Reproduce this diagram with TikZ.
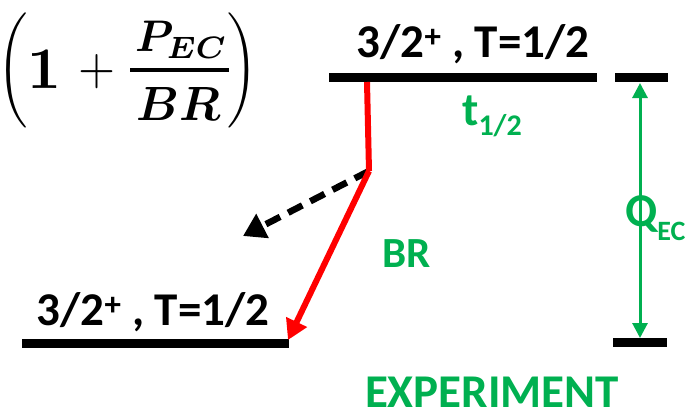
\documentclass[tikz,border=0pt]{standalone}
\usepackage{amsmath,bm}
\usepackage[no-math]{fontspec}
\setmainfont{Carlito}
\usetikzlibrary{arrows.meta}
\definecolor{offgreen}{RGB}{0,176,80}
\tikzset{
  level/.style={line width=9pt},
  lbl/.style={font=\bfseries\fontsize{47}{50}\selectfont, inner sep=0pt, anchor=base},
  glbl/.style={lbl, text=offgreen},
  mpart/.style={inner sep=0pt, anchor=center},
  redarrow/.style={red, line width=6pt, -{Triangle[length=20pt,width=22pt]}},
  dasharrow/.style={black, line width=6.5pt, dash pattern=on 16pt off 9pt, -{Triangle[length=22pt,width=26pt]}},
  qarrow/.style={offgreen, line width=3pt, {Triangle[length=15pt,width=15pt]}-{Triangle[length=15pt,width=15pt]}}
}
\begin{document}
\begin{tikzpicture}[x=1pt,y=-1pt]
\useasboundingbox (0,0) rectangle (700,413);
% levels
\coordinate (t1) at (329,77.5);
\coordinate (t2) at (597,77.5);
\coordinate (q1) at (615,77.5);
\coordinate (q2) at (668,77.5);
\coordinate (b1) at (22,343);
\coordinate (b2) at (289,343);
\coordinate (r1) at (613,342);
\coordinate (r2) at (667,342);
\draw[level] (t1) -- (t2);
\draw[level] (q1) -- (q2);
\draw[level] (b1) -- (b2);
\draw[level] (r1) -- (r2);
% formula (1 + P_EC / BR)
\node[mpart] (lpar) at (12.5,70.5) {\resizebox*{!}{115pt}{$\Bigg($}};
\node[mpart] (rpar) at (242.5,70.5) {\resizebox*{!}{115pt}{$\Bigg)$}};
\node[mpart] (one) at (44.5,69) {\resizebox*{!}{38pt}{$\mathbf{1}$}};
\node[mpart] (plus) at (96.5,72) {\resizebox{37pt}{30pt}{$+$}};
\node[mpart] (num) at (181.5,39.5) {\resizebox*{93pt}{37pt}{\boldmath$P_{EC}$}};
\node[mpart] (den) at (179,104) {\resizebox*{84pt}{33pt}{\boldmath$BR$}};
\coordinate (bar1) at (130,70);
\coordinate (bar2) at (229,70);
\draw[line width=3.5pt] (bar1) -- (bar2);
% labels
\node[lbl] (toplbl) at (473,57) {3/2\textsuperscript{+} , T=1/2};
\node[lbl] (botlbl) at (153,325) {3/2\textsuperscript{+} , T=1/2};
\node[glbl, anchor=base west] (thalf) at (462,125) {t\raisebox{-10pt}{\fontsize{30}{30}\selectfont 1/2}};
\node[glbl, font=\bfseries\fontsize{43}{46}\selectfont] (br) at (407,267) {BR};
\node[glbl] (exp) at (492,407) {EXPERIMENT};
% arrows
\coordinate (d0) at (367,82);
\coordinate (bend) at (369,171);
\coordinate (dtip) at (243,236);
\coordinate (rtip) at (288,340);
\coordinate (qtop) at (640,83);
\coordinate (qbot) at (640,338);
\draw[dasharrow] (bend) -- (dtip);
\draw[red, line width=6pt, line join=miter] (d0) -- (bend);
\draw[redarrow] (bend) -- (rtip);
\draw[qarrow] (qtop) -- (qbot);
\node[glbl, anchor=base west] (qec) at (625,226) {Q\raisebox{-14pt}{\fontsize{28}{28}\selectfont EC}};
\end{tikzpicture}
\end{document}
